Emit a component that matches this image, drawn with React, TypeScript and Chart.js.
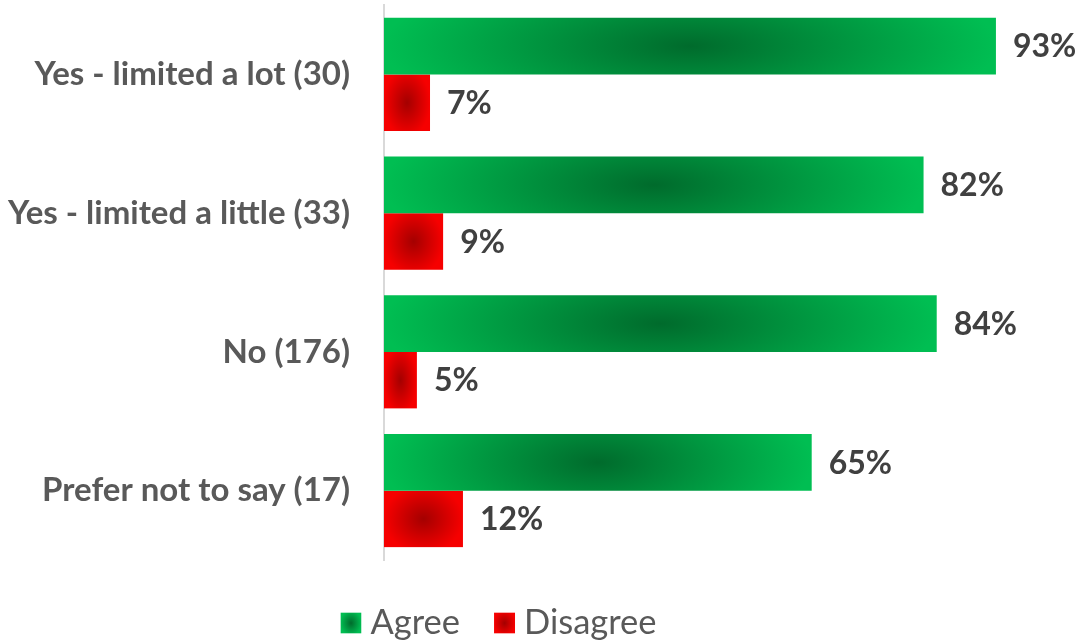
import React, { useEffect, useRef } from "react";
import { Chart, registerables } from "chart.js";

Chart.register(...registerables);

const categories = [
  "Yes - limited a lot (30)",
  "Yes - limited a little (33)",
  "No (176)",
  "Prefer not to say (17)",
];
const agreeValues = [93, 82, 84, 65];
const disagreeValues = [7, 9, 5, 12];
const seriesLabels = ["Agree", "Disagree"];
const valueSuffix = "%";

const FONT = "Lato, 'Open Sans', sans-serif";
const seriesStyles = [
  { inner: "#006B2C", outer: "#00BE52", solid: "#00A846", ryFactor: 3 },
  { inner: "#A40000", outer: "#F60000", solid: "#E00000", ryFactor: 1.2 },
];

function fillGradientRect(
  ctx: CanvasRenderingContext2D,
  x: number,
  y: number,
  w: number,
  h: number,
  inner: string,
  outer: string,
  ryFactor: number
) {
  if (w <= 0 || h <= 0) return;
  ctx.save();
  ctx.beginPath();
  ctx.rect(x, y, w, h);
  ctx.clip();
  const rx = w / 2;
  const ry = (h / 2) * ryFactor;
  ctx.translate(x + w / 2, y + h / 2);
  ctx.scale(rx, ry);
  const g = ctx.createRadialGradient(0, 0, 0, 0, 0, 1);
  g.addColorStop(0, inner);
  g.addColorStop(1, outer);
  ctx.fillStyle = g;
  ctx.fillRect(-w / 2 / rx - 0.01, -h / 2 / ry - 0.01, w / rx + 0.02, h / ry + 0.02);
  ctx.restore();
}

const gradientBarsPlugin = {
  id: "gradientBars",
  beforeDatasetDraw(chart: any, args: any) {
    const ctx = chart.ctx as CanvasRenderingContext2D;
    const style = seriesStyles[args.index];
    args.meta.data.forEach((el: any) => {
      const { x, y, base, height } = el.getProps(["x", "y", "base", "height"], true);
      const left = Math.min(x, base);
      const w = Math.abs(x - base);
      fillGradientRect(ctx, left, y - height / 2, w, height, style.inner, style.outer, style.ryFactor);
    });
    return false;
  },
};

const dataLabelsPlugin = {
  id: "dataLabels",
  afterDatasetsDraw(chart: any) {
    const ctx = chart.ctx as CanvasRenderingContext2D;
    ctx.save();
    ctx.font = `bold 32px ${FONT}`;
    ctx.fillStyle = "#404040";
    ctx.textAlign = "left";
    ctx.textBaseline = "middle";
    chart.data.datasets.forEach((ds: any, di: number) => {
      const meta = chart.getDatasetMeta(di);
      meta.data.forEach((el: any, i: number) => {
        const { x, y } = el.getProps(["x", "y"], true);
        ctx.fillText(`${ds.data[i]}${valueSuffix}`, x + 17, y + 1);
      });
    });
    ctx.restore();
  },
};

const customLegendPlugin = {
  id: "customLegend",
  afterDraw(chart: any) {
    const ctx = chart.ctx as CanvasRenderingContext2D;
    ctx.save();
    ctx.font = `34.5px ${FONT}`;
    const box = 21;
    const boxGap = 9;
    const itemGap = 34;
    const widths = seriesLabels.map((t) => ctx.measureText(t).width);
    const total =
      widths.reduce((a, b) => a + b, 0) + seriesLabels.length * (box + boxGap) + (seriesLabels.length - 1) * itemGap;
    let x = (chart.width - total) / 2 - 45;
    const cy = chart.height - 18;
    seriesLabels.forEach((t, i) => {
      const s = seriesStyles[i];
      fillGradientRect(ctx, x, cy - box / 2, box, box, s.inner, s.outer, 1.2);
      x += box + boxGap;
      ctx.fillStyle = "#595959";
      ctx.textAlign = "left";
      ctx.textBaseline = "middle";
      ctx.fillText(t, x, cy);
      x += widths[i] + itemGap;
    });
    ctx.restore();
  },
};

export default function App() {
  const canvasRef = useRef<HTMLCanvasElement | null>(null);

  useEffect(() => {
    if (!canvasRef.current) return;
    const chart = new Chart(canvasRef.current, {
      type: "bar",
      data: {
        labels: categories,
        datasets: [
          {
            label: seriesLabels[0],
            data: agreeValues,
            backgroundColor: seriesStyles[0].solid,
            categoryPercentage: 0.815,
            barPercentage: 1.0,
          },
          {
            label: seriesLabels[1],
            data: disagreeValues,
            backgroundColor: seriesStyles[1].solid,
            categoryPercentage: 0.815,
            barPercentage: 1.0,
          },
        ],
      },
      options: {
        indexAxis: "y",
        responsive: false,
        animation: false,
        layout: { padding: { top: 5, right: 45, bottom: 81, left: 0 } },
        plugins: {
          legend: { display: false },
          tooltip: { enabled: false },
        },
        scales: {
          x: {
            display: false,
            min: 0,
            max: 100,
          },
          y: {
            afterFit: (scale: any) => {
              scale.width = 384;
              scale.paddingTop = 0;
              scale.paddingBottom = 0;
            },
            grid: { display: false, drawTicks: false },
            border: { display: true, color: "#D9D9D9", width: 2 },
            ticks: {
              color: "#595959",
              padding: 34,
              font: { family: FONT, size: 33, weight: "bold" },
            },
          },
        },
      },
      plugins: [gradientBarsPlugin, dataLabelsPlugin, customLegendPlugin],
    });
    return () => chart.destroy();
  }, []);

  return (
    <div style={{ position: "absolute", left: 0, top: 0, width: 1087, height: 641, background: "#fff" }}>
      <canvas ref={canvasRef} width={1087} height={641} style={{ display: "block" }} />
    </div>
  );
}
